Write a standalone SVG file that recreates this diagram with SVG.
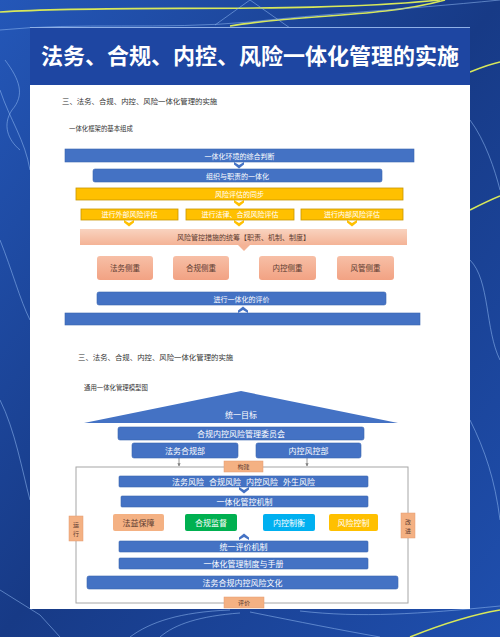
<svg xmlns="http://www.w3.org/2000/svg" width="500" height="637" viewBox="0 0 500 637">
<defs>
<linearGradient id="bg" x1="0" y1="0" x2="1" y2="1">
<stop offset="0" stop-color="#2457b8"/>
<stop offset="0.5" stop-color="#173a86"/>
<stop offset="1" stop-color="#1f4fae"/>
</linearGradient>
<linearGradient id="pinkband" x1="0" y1="0" x2="0" y2="1">
<stop offset="0" stop-color="#f9d3bf"/>
<stop offset="1" stop-color="#f4b396"/>
</linearGradient>
<linearGradient id="pinkbox" x1="0" y1="0" x2="0" y2="1">
<stop offset="0" stop-color="#f7bfa6"/>
<stop offset="1" stop-color="#f2a283"/>
</linearGradient>
<path id="chevDown" d="M-5,0 L0,3 L5,0 L5,2.5 L0,6.5 L-5,2.5 Z"/>
<path id="chevUp" d="M-5,0 L0,-3 L5,0 L5,-2.5 L0,-6.5 L-5,-2.5 Z"/>
<marker id="ah" viewBox="0 0 6 6" refX="5" refY="3" markerWidth="4" markerHeight="4" orient="auto">
<path d="M0,0 L6,3 L0,6 Z" fill="#7f7f7f"/>
</marker>
</defs>
<style>
.t{font-family:"Noto Sans CJK SC","Noto Sans",sans-serif;}
.w{fill:#ffffff;text-anchor:middle;font-size:7px;}
.wb{fill:#ffffff;text-anchor:middle;font-size:8px;}
.d{fill:#5a3a30;text-anchor:middle;font-size:7.5px;}
.h{fill:#333333;font-size:7.4px;}
.blue{fill:#4472c4;stroke:#3a64b0;stroke-width:0.6;}
.yel{fill:#ffc000;stroke:#c89600;stroke-width:0.8;}
.pk{fill:url(#pinkbox);}
.sal{fill:#f4b183;stroke:#e49a70;stroke-width:0.5;}
.frame{fill:none;stroke:#a6a6a6;stroke-width:1;}
.sw{fill:none;stroke:#8fb8f0;stroke-width:1;opacity:0.55;}
.sy{fill:none;stroke:#d8e85a;stroke-width:1.6;}
</style>

<!-- background -->
<rect x="0" y="0" width="500" height="637" fill="url(#bg)"/>
<g>
<path class="sy" d="M0,12 C120,4 300,14 440,0"/>
<path class="sy" d="M230,26 C300,14 380,18 445,0"/>
<path class="sw" d="M0,30 C80,22 160,30 250,22 C320,14 400,10 500,0"/>
<path class="sw" d="M215,25 L250,0 L290,28"/>
<path class="sy" d="M470,72 C480,68 490,64 500,62"/>
<path class="sy" d="M470,210 C480,205 490,200 500,196"/>
<path class="sw" d="M470,120 C485,140 495,170 500,190"/>
<path class="sw" d="M470,260 C490,280 485,330 500,360"/>
<path class="sw" d="M470,420 C485,450 495,480 500,520"/>
<path class="sw" d="M0,90 C10,120 25,140 30,170"/>
<path class="sw" d="M0,240 C12,270 20,300 30,320"/>
<path class="sw" d="M0,400 C15,430 22,470 30,500"/>
<path class="sw" d="M5,60 C20,80 25,95 12,110 C2,125 8,140 20,150"/>
<path class="sw" d="M0,590 L40,615 L60,637"/>
<path class="sw" d="M130,637 C150,622 180,612 230,610"/>
<path class="sw" d="M160,637 C175,624 200,616 240,613"/>
<path class="sw" d="M250,612 C300,622 340,630 380,637"/>
<path class="sw" d="M300,611 C360,618 420,614 500,606"/>
<path class="sy" d="M410,637 C440,625 470,615 500,610"/>
</g>

<!-- panel -->
<rect x="30" y="85" width="440" height="524" fill="#ffffff"/>
<rect x="30" y="27" width="440" height="58" fill="#1e46a2"/>
<line x1="30" y1="27.5" x2="470" y2="27.5" stroke="#8fb0e6" stroke-width="1"/>
<text class="t" x="250" y="64" text-anchor="middle" font-size="22" font-weight="bold" fill="#ffffff">法务、合规、内控、风险一体化管理的实施</text>

<!-- section 1 -->
<text class="t h" x="62" y="104">三、法务、合规、内控、风险一体化管理的实施</text>
<text class="t h" x="69" y="131" style="font-size:6.4px">一体化框架的基本组成</text>

<g id="connectors">
<use href="#chevDown" x="239" y="162" fill="#4472c4"/>
<use href="#chevDown" x="239" y="200" fill="#ffc000"/>
<use href="#chevDown" x="129" y="220" fill="#ffc000"/>
<use href="#chevDown" x="239" y="220" fill="#ffc000"/>
<use href="#chevDown" x="352" y="220" fill="#ffc000"/>
<path d="M238,245 L250,245 L244,251 Z" fill="#f4b396"/>
<use href="#chevUp" x="243" y="313" fill="#4472c4"/>
<line x1="179" y1="458" x2="179" y2="466" stroke="#7f7f7f" stroke-width="0.8" marker-end="url(#ah)"/>
<line x1="307" y1="458" x2="307" y2="466" stroke="#7f7f7f" stroke-width="0.8" marker-end="url(#ah)"/>
<use href="#chevDown" x="244" y="487" fill="#4472c4"/>
<use href="#chevUp" x="244" y="540" fill="#4472c4"/>
</g>

<g id="env"><rect class="blue" x="65" y="149" width="349" height="13"/><text class="t w" x="239.5" y="158.5">一体化环境的综合判断</text></g>
<g id="org"><rect class="blue" x="93" y="169" width="289" height="13" rx="2"/><text class="t w" x="237.5" y="178.5">组织与职责的一体化</text></g>
<g id="riskeval"><rect class="yel" x="76" y="188" width="327" height="12"/><text class="t w" x="239.5" y="197">风险评估的同步</text></g>
<g id="ev1"><rect class="yel" x="81" y="209" width="97" height="11"/><text class="t w" x="129.5" y="217.3">进行外部风险评估</text></g>
<g id="ev2"><rect class="yel" x="186" y="209" width="108" height="11"/><text class="t w" x="240" y="217.3">进行法律、合规风险评估</text></g>
<g id="ev3"><rect class="yel" x="301" y="209" width="102" height="11"/><text class="t w" x="352" y="217.3">进行内部风险评估</text></g>
<g id="coord"><rect x="80" y="229" width="327" height="16" fill="url(#pinkband)"/><text class="t d" x="243.5" y="240" style="font-size:7px">风险管控措施的统筹【职责、机制、制度】</text></g>
<g id="f1"><rect class="pk" x="97" y="256" width="56" height="24" rx="3"/><text class="t d" x="125" y="271">法务侧重</text></g>
<g id="f2"><rect class="pk" x="173" y="256" width="56" height="24" rx="3"/><text class="t d" x="201" y="271">合规侧重</text></g>
<g id="f3"><rect class="pk" x="259" y="256" width="57" height="24" rx="3"/><text class="t d" x="287.5" y="271">内控侧重</text></g>
<g id="f4"><rect class="pk" x="337" y="256" width="57" height="24" rx="3"/><text class="t d" x="365.5" y="271">风管侧重</text></g>
<g id="evalint"><rect class="blue" x="97" y="292" width="289" height="13" rx="2"/><text class="t w" x="241.5" y="301.5">进行一体化的评价</text></g>
<g id="base1"><rect class="blue" x="65" y="313" width="355" height="12"/></g>

<!-- section 2 -->
<text class="t h" x="78" y="360">三、法务、合规、内控、风险一体化管理的实施</text>
<text class="t h" x="84" y="390" style="font-size:6.4px">通用一体化管理模型图</text>

<g id="roof"><polygon points="241,391 84,423 398,423" fill="#4472c4"/><text class="t wb" x="241" y="418">统一目标</text></g>
<g id="committee"><rect class="blue" x="118" y="427" width="246" height="13" rx="2"/><text class="t wb" x="241" y="436.8">合规内控风险管理委员会</text></g>
<g id="dept1"><rect class="blue" x="132" y="443" width="106" height="15" rx="2"/><text class="t wb" x="185" y="453.8">法务合规部</text></g>
<g id="dept2"><rect class="blue" x="256" y="443" width="105" height="15" rx="2"/><text class="t wb" x="308.5" y="453.8">内控风控部</text></g>

<g id="frame"><rect class="frame" x="76" y="467" width="332" height="136"/></g>
<g id="build"><rect class="sal" x="224" y="461" width="39" height="11"/><text class="t d" x="243.5" y="469.2" style="font-size:6px">构建</text></g>
<g id="risks"><rect class="blue" x="119" y="476" width="249" height="11" rx="1"/><text class="t wb" x="243.5" y="484.6"><tspan>法务风险</tspan><tspan dx="5">合规风险</tspan><tspan dx="5">内控风险</tspan><tspan dx="5">外生风险</tspan></text></g>
<g id="mech"><rect class="blue" x="121" y="496" width="247" height="11" rx="1"/><text class="t wb" x="244.5" y="504.6">一体化管控机制</text></g>
<g id="m1"><rect x="113" y="514" width="51" height="17" rx="2" fill="#f4b183"/><text class="t" x="138.5" y="525.5" text-anchor="middle" font-size="8" fill="#5a3a30">法益保障</text></g>
<g id="m2"><rect x="185" y="514" width="52" height="17" rx="2" fill="#00b050"/><text class="t wb" x="211" y="525.5">合规监督</text></g>
<g id="m3"><rect x="263" y="514" width="52" height="17" rx="2" fill="#00b0f0"/><text class="t wb" x="289" y="525.5">内控制衡</text></g>
<g id="m4"><rect x="329" y="514" width="49" height="17" rx="2" fill="#ffc000"/><text class="t wb" x="353.5" y="525.5">风险控制</text></g>
<g id="run"><rect class="sal" x="69" y="516" width="14" height="25"/><text class="t d" x="76" y="527" style="font-size:6px">运</text><text class="t d" x="76" y="536" style="font-size:6px">行</text></g>
<g id="improve"><rect class="sal" x="401" y="513" width="14" height="25"/><text class="t d" x="408" y="524" style="font-size:6px">改</text><text class="t d" x="408" y="533" style="font-size:6px">进</text></g>
<g id="evalmech"><rect class="blue" x="119" y="541" width="249" height="11" rx="1"/><text class="t wb" x="243.5" y="549.6">统一评价机制</text></g>
<g id="manual"><rect class="blue" x="119" y="558" width="249" height="11" rx="1"/><text class="t wb" x="243.5" y="566.6">一体化管理制度与手册</text></g>
<g id="culture"><rect class="blue" x="87" y="576" width="311" height="13" rx="2"/><text class="t wb" x="242.5" y="585.6">法务合规内控风险文化</text></g>
<g id="evaluate"><rect class="sal" x="224" y="597" width="40" height="11"/><text class="t d" x="244" y="605.2" style="font-size:6px">评价</text></g>
</svg>
